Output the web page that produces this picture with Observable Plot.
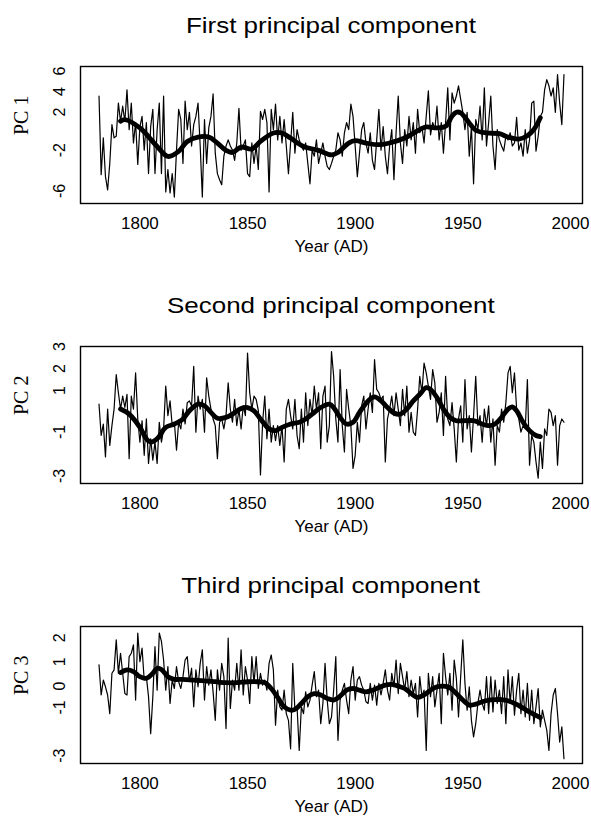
<!DOCTYPE html>
<html>
<head>
<meta charset="utf-8">
<script src="https://cdn.jsdelivr.net/npm/d3@7"></script>
<script src="https://cdn.jsdelivr.net/npm/@observablehq/plot@0.6"></script>
<style>
  html, body { margin: 0; padding: 0; background: #fff; }
  body { width: 591px; height: 825px; overflow: hidden; font-family: "Liberation Sans", Arial, sans-serif; }
  .panel { position: relative; width: 591px; height: 280px; }
  .panel svg { position: absolute; left: 0; top: 0; }
  .title { position: absolute; left: 0; width: 662px; top: 15px; text-align: center; font-size: 22px; line-height: 22px; color: #000; z-index: 2; }
  .title span { display: inline-block; transform: scaleX(1.18); transform-origin: center; white-space: nowrap; }
</style>
</head>
<body>
<div id="root"></div>
<script>
// ---------- data ----------
const startYear = 1781;
const titles = ["First principal component", "Second principal component", "Third principal component"];
const yLabels = ["PC 1", "PC 2", "PC 3"];
const xLabel = "Year (AD)";
const xTicks = [1800, 1850, 1900, 1950, 2000];
const yTicks1 = [-6, -2, 2, 4, 6];
const yTicks2 = [-3, -1, 1, 2, 3];
const yTicks3 = [-3, -1, 0, 1, 2];

// annual values 1781-1997
const pc1 = [
  4.0, -3.7, -0.1, -3.9, -5.2, -2.6, 1.2, -0.1, 0.05, 3.3,
  1.5, 3.0, 1.5, 4.6, 0.7, 3.3, -0.6, 1.4, -2.7, 1.0,
  2.0, -1.3, 1.4, -3.6, 1.0, 2.7, -3.6, 0.7, 3.3, -3.6,
  4.0, -5.4, -3.2, -5.5, -3.6, -5.9, -1.3, 2.7, 1.7, -2.6,
  3.5, 0.7, 2.4, -0.9, 1.2, 2.0, 3.3, -0.9, -5.9, 1.7,
  -2.6, 0.9, 2.0, 4.2, -1.6, -3.6, -4.2, -4.7, -1.9, -0.9,
  -0.3, -0.9, -1.3, -2.3, -0.6, 2.8, -1.3, -0.9, -0.3, -3.6,
  -3.9, -0.6, -2.6, -0.9, -3.2, 2.5, 1.7, 2.7, 1.4, -5.4,
  2.7, 0.7, 3.2, -0.3, 2.0, -0.6, 1.7, -0.9, -3.6, -0.6,
  2.4, -1.6, 0.7, -0.3, -0.9, -1.3, -0.6, -2.6, -4.6, -1.3,
  -1.9, -0.3, -2.6, -1.6, -0.6, -1.9, -2.9, -3.2, -2.6, -1.9,
  -1.3, 0.4, -0.3, -1.9, 0.4, 1.4, 0.7, 3.2, 2.0, -0.9,
  -3.9, -1.6, 0.7, 1.4, -0.6, -1.6, 0.4, -2.3, -3.2, -0.3,
  2.7, -1.3, 1.0, -1.9, -3.6, -0.9, 0.7, -4.2, 0.4, 4.0,
  -0.6, -2.6, 0.7, -0.9, 2.0, -0.3, 1.4, -1.6, 2.7, 0.4,
  1.0, -0.6, 2.0, 4.5, 0.2, 1.4, 0.7, 3.0, -0.3, 1.4,
  -1.6, 1.4, 4.8, -0.3, 4.3, 3.3, 4.0, 5.0, 3.7, 2.4,
  0.7, 2.4, -1.9, 1.0, -4.6, 1.7, 0.7, 3.0, -0.3, 4.8,
  -0.9, 1.4, 4.0, -0.9, -3.2, 0.7, -0.3, -0.9, -1.4, 0.05,
  -0.3, 0.4, -0.9, -0.6, 1.9, -1.3, -0.6, -1.9, 0.7, -1.6,
  -0.3, 3.3, 3.5, -1.4, 0.05, 2.0, 2.4, 4.6, 5.6, 5.0,
  4.0, 4.8, 2.4, 6.1, 3.3, 1.2, 6.1
];
const pc2 = [
  0.58, -0.84, -0.32, -1.81, 0.36, -1.29, -0.39, 0.36, 1.92, 1.1,
  0.36, 0.95, 0.43, 1.03, -1.89, 0.95, 0.36, 2.0, -0.09, -1.14,
  -0.17, -1.74, -0.09, -2.11, -0.99, -1.96, -1.14, -2.11, -0.24, -1.14,
  -0.54, 1.4, 0.06, 0.73, -0.39, -0.24, -1.51, -0.24, -0.54, 0.36,
  -0.32, 0.65, 0.73, 0.5, 2.3, -0.69, 0.95, 0.36, 0.8, -0.69,
  1.78, 0.95, 0.36, -0.09, -0.39, -1.89, -0.24, -0.09, -0.54, 0.06,
  1.55, 0.36, -0.24, 0.8, -0.39, 0.36, -0.54, 0.51, 0.06, 2.9,
  1.1, 0.36, 0.95, 0.8, 0.3, -2.63, -0.24, 0.95, -0.99, 0.36,
  -1.14, -0.39, -1.07, -0.39, -1.29, -0.39, -2.04, 0.36, 0.8, 0.06,
  -0.54, 0.8, -0.84, -1.44, 0.36, -1.14, 1.1, -0.39, 0.8, 0.06,
  1.4, 0.36, 1.1, -1.44, 0.95, 1.4, -1.14, -0.39, 2.97, 1.85,
  -0.09, -1.14, 2.15, -0.39, -1.59, 1.25, 0.36, -0.39, -2.34, -1.74,
  -0.24, -1.14, 0.51, 0.95, -0.54, 0.36, 1.1, 0.21, 2.6, 1.25,
  1.1, 0.8, 0.95, -2.04, -0.09, 0.36, 0.95, 0.06, 1.1, 0.36,
  -0.39, 1.25, 0.06, 1.4, -0.69, 0.21, -0.69, -0.84, 0.36, 1.85,
  1.1, 2.45, 2.0, 1.4, 0.8, 2.15, 1.55, -0.24, 0.21, 1.1,
  -0.84, 1.85, -0.09, -0.39, 0.65, -0.54, -2.04, -0.09, 0.51, -1.14,
  1.7, -0.54, 0.06, -1.59, 0.06, 1.85, -0.39, 0.06, -1.14, 0.36,
  -0.39, 0.51, -1.14, -0.09, -2.19, -0.39, -0.69, 0.36, -0.24, 0.65,
  2.0, 2.3, 1.1, 2.0, 0.36, -0.09, -0.69, -0.39, -0.54, 1.7,
  -2.19, -0.84, -1.14, -2.04, -2.78, -1.14, -2.34, -0.54, -0.84, 0.36,
  0.21, -0.39, 0.06, -2.19, -0.39, -0.09, -0.24
];
const pc3 = [
  1.06, -0.19, 0.43, 0.15, -0.19, -0.96, 0.71, 0.85, 2.1, 0.71,
  1.54, 0.71, -0.13, -0.19, 1.4, 1.54, 1.89, -0.4, 2.38, 1.19,
  1.75, 0.43, 0.57, -0.26, -1.79, -0.26, 1.82, 0.01, 2.38, 2.03,
  1.26, 0.01, 0.99, -0.54, 0.43, 0.08, 0.99, 0.36, 0.08, 0.57,
  1.26, 1.4, 0.36, 0.92, -0.68, 0.85, 0.15, 1.12, 1.68, -0.4,
  0.99, 0.22, 0.85, -0.06, -1.24, 0.85, 0.01, 1.12, 0.57, -1.58,
  2.17, -0.75, 0.43, 0.01, 1.12, 0.01, 1.68, -0.19, 0.99, 0.43,
  -0.54, 1.4, 0.29, 1.4, 0.08, 0.71, 0.22, 0.43, 0.01, 1.12,
  1.47, 0.85, -1.44, 0.01, -0.68, -0.82, 0.01, -0.96, -1.24, -2.42,
  1.12, -0.82, -0.68, -2.49, -0.68, -0.96, -0.06, -0.68, -0.4, 0.22,
  0.78, -0.26, 0.01, -1.38, -0.54, 1.12, -0.4, -1.38, -1.1, 0.01,
  1.4, -2.07, -0.4, 0.01, 0.29, -0.4, -0.96, 0.43, 0.99, -0.4,
  0.43, 0.57, 0.22, 0.01, -0.47, -0.54, 0.29, -0.4, 0.22, -0.61,
  0.29, -0.19, 0.29, 0.85, 0.01, -0.4, 0.71, 0.15, 1.26, -0.13,
  1.12, 0.57, 0.01, 0.78, -0.26, 0.43, -0.13, 0.29, -1.1, 0.57,
  -0.26, 0.01, -2.49, 0.71, -0.26, 0.57, -0.68, 0.01, 0.71, -1.38,
  1.54, 0.57, -0.19, 0.71, -0.82, 1.26, 0.5, -1.1, 0.57, 2.1,
  0.29, -0.82, 0.15, -1.24, -1.93, -1.38, -0.54, 0.01, -0.54, -0.82,
  0.57, -0.96, 0.57, -0.89, 0.43, -0.54, 0.01, -0.96, 0.57, -1.38,
  0.85, -0.54, 0.57, -1.03, 0.01, 0.71, -0.96, 0.01, -1.1, 0.29,
  -1.24, 0.01, -1.38, -0.68, 0.08, -1.51, -0.82, -1.24, -1.65, -2.49,
  -0.96, -0.19, 0.08, -0.96, -2.14, -1.51, -2.83
];

// smoothed curves: [year, value]
const smooth1Years = [1791, 1793, 1800, 1808, 1813, 1818, 1822, 1827, 1832, 1836, 1840, 1843, 1847, 1852, 1856, 1862, 1866, 1870, 1876, 1883, 1889, 1892, 1897, 1900, 1905, 1911, 1917, 1923, 1930, 1933, 1938, 1942, 1945, 1947, 1949, 1953, 1956, 1961, 1967, 1971, 1976, 1980, 1983, 1986];
const smooth1Values = [1.53, 1.69, 0.87, -0.94, -1.92, -1.43, -0.45, -0.02, -0.02, -0.61, -1.33, -1.53, -1.0, -1.2, -0.45, 0.38, 0.38, -0.12, -0.94, -1.33, -1.76, -1.53, -0.61, -0.38, -0.61, -0.77, -0.54, -0.12, 0.71, 0.97, 0.87, 1.03, 2.02, 2.41, 2.35, 1.36, 0.64, 0.38, 0.31, -0.02, -0.22, 0.11, 0.71, 1.86];
const smooth2Years = [1791, 1795, 1800, 1803, 1805, 1808, 1812, 1816, 1820, 1823, 1827, 1830, 1833, 1836, 1840, 1843, 1847, 1850, 1853, 1856, 1860, 1863, 1866, 1870, 1874, 1877, 1880, 1884, 1888, 1890, 1893, 1896, 1899, 1902, 1906, 1909, 1912, 1915, 1918, 1921, 1924, 1927, 1930, 1933, 1935, 1938, 1941, 1944, 1947, 1950, 1955, 1959, 1962, 1965, 1968, 1971, 1973, 1975, 1978, 1981, 1984, 1986];
const smooth2Values = [0.36, 0.13, -0.47, -0.99, -1.14, -0.99, -0.47, -0.32, -0.09, 0.28, 0.58, 0.51, 0.21, -0.06, -0.02, 0.13, 0.39, 0.43, 0.28, -0.09, -0.54, -0.62, -0.47, -0.32, -0.24, -0.09, 0.13, 0.43, 0.58, 0.43, -0.02, -0.32, -0.24, 0.21, 0.73, 0.91, 0.73, 0.43, 0.18, 0.13, 0.36, 0.73, 1.03, 1.33, 1.25, 0.88, 0.36, -0.02, -0.17, -0.17, -0.17, -0.32, -0.39, -0.32, -0.02, 0.36, 0.46, 0.28, -0.24, -0.62, -0.84, -0.89];
const smooth3Years = [1791, 1794, 1797, 1800, 1803, 1806, 1808, 1810, 1813, 1816, 1820, 1825, 1830, 1835, 1840, 1845, 1850, 1855, 1858, 1861, 1864, 1867, 1870, 1872, 1875, 1878, 1881, 1884, 1887, 1890, 1893, 1896, 1899, 1902, 1905, 1908, 1911, 1914, 1917, 1920, 1923, 1926, 1929, 1932, 1935, 1938, 1941, 1944, 1947, 1950, 1953, 1956, 1959, 1962, 1965, 1968, 1971, 1974, 1977, 1980, 1983, 1986];
const smooth3Values = [0.74, 0.85, 0.78, 0.57, 0.5, 0.71, 0.92, 0.87, 0.57, 0.46, 0.46, 0.43, 0.4, 0.36, 0.32, 0.32, 0.36, 0.36, 0.32, 0.08, -0.29, -0.68, -0.82, -0.79, -0.54, -0.26, -0.13, -0.19, -0.33, -0.4, -0.24, 0.01, 0.08, 0.01, -0.06, 0.01, 0.12, 0.22, 0.25, 0.18, 0.08, -0.13, -0.29, -0.19, 0.01, 0.15, 0.18, 0.12, -0.13, -0.4, -0.61, -0.57, -0.47, -0.4, -0.38, -0.38, -0.43, -0.54, -0.68, -0.85, -0.99, -1.13];

// ---------- drawing ----------
const xDomain = [1772.4, 2005.6];
const panels = [
  {title: titles[0], ylab: yLabels[0], values: pc1, sy: smooth1Years, sv: smooth1Values, yDomain: [-6.53, 6.89], yTicks: yTicks1},
  {title: titles[1], ylab: yLabels[1], values: pc2, sy: smooth2Years, sv: smooth2Values, yDomain: [-3.02, 3.2], yTicks: yTicks2},
  {title: titles[2], ylab: yLabels[2], values: pc3, sy: smooth3Years, sv: smooth3Values, yDomain: [-3.03, 2.65], yTicks: yTicks3}
];

const root = document.getElementById("root");
for (const p of panels) {
  const div = document.createElement("div");
  div.className = "panel";
  const t = document.createElement("div");
  t.className = "title";
  const span = document.createElement("span");
  span.textContent = p.title;
  t.appendChild(span);
  div.appendChild(t);

  const series = p.values.map((v, i) => ({year: startYear + i, value: v}));
  const smooth = p.sy.map((y, i) => ({year: y, value: p.sv[i]}));

  const chart = Plot.plot({
    width: 591,
    height: 280,
    marginTop: 66,
    marginBottom: 77,
    marginLeft: 80,
    marginRight: 9,
    style: {fontFamily: "'Liberation Sans', Arial, sans-serif", background: "transparent", color: "#000"},
    x: {domain: xDomain, axis: null},
    y: {domain: p.yDomain, axis: null},
    marks: [
      Plot.line(series, {x: "year", y: "value", stroke: "#000", strokeWidth: 1.2}),
      Plot.line(smooth, {x: "year", y: "value", stroke: "#000", strokeWidth: 4.8, curve: "catmull-rom", strokeLinejoin: "round", strokeLinecap: "round"}),
      Plot.frame({stroke: "#000", strokeWidth: 1.4}),
      Plot.text(xTicks, {x: d => d, text: d => String(d), frameAnchor: "bottom", dy: 25, fontSize: 17, fill: "#000"}),
      Plot.text(p.yTicks, {y: d => d, text: d => String(d), frameAnchor: "left", dx: -21, rotate: -90, fontSize: 16, fill: "#000"}),
      Plot.text([xLabel], {frameAnchor: "bottom", dy: 48, fontSize: 17, fill: "#000"}),
      Plot.text([p.ylab], {frameAnchor: "left", dx: -59, rotate: -90, fontSize: 20, fontFamily: "'Liberation Serif', 'Times New Roman', serif", fill: "#000"})
    ]
  });
  div.appendChild(chart);
  root.appendChild(div);
}
</script>
</body>
</html>
